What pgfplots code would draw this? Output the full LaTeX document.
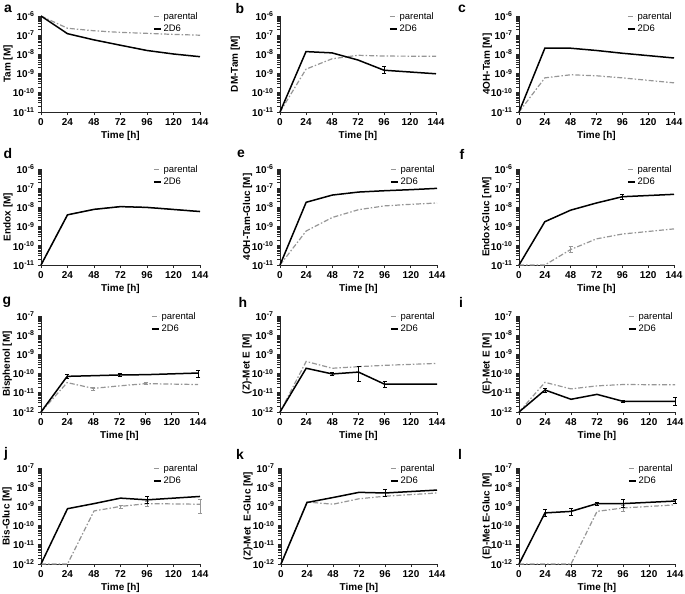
\documentclass[border=0pt]{standalone}
\usepackage{fontspec}
\setmainfont{Liberation Sans}
\usepackage{pgfplots}
\pgfplotsset{compat=1.18}
\definecolor{pargray}{RGB}{150,150,150}
\pgfplotsset{/pgf/number format/assume math mode=true}
\pgfplotsset{legend image code/.code={\draw[#1] (0bp,0bp) -- (7bp,0bp);}}
\pgfplotsset{every axis/.append style={
    scale only axis, height=96bp, xmin=0, xmax=144,
    xtick={0,24,48,72,96,120,144},
    axis lines=left, axis line style={-, line width=0.7bp, black!85},
    tick align=outside, major tick length=3bp, tick style={line width=0.7bp, black!85},
    ticklabel style={font=\bfseries\fontsize{10}{11}\selectfont},
    xlabel={Time [h]},
    xlabel style={at={(axis description cs:0.5,-0.245)}, anchor=center, font=\bfseries\fontsize{10}{11}\selectfont},
    ylabel style={anchor=center, font=\bfseries\fontsize{10}{11}\selectfont},
    legend style={at={(axis description cs:1,1.06)}, anchor=north east, draw=none, fill=none, inner sep=0pt, font=\fontsize{9.5}{10}\selectfont, cells={anchor=west}, row sep=0pt},
    clip=false,
  }}
\pgfplotsset{
  myupper/.style={ymin=1e-11, ymax=1e-6, ytick={1e-11,1e-10,1e-9,1e-8,1e-7,1e-6},
    yticklabels={10\textsuperscript{-11},10\textsuperscript{-10},10\textsuperscript{-9},10\textsuperscript{-8},10\textsuperscript{-7},10\textsuperscript{-6}}},
  mylower/.style={ymin=1e-12, ymax=1e-7, ytick={1e-12,1e-11,1e-10,1e-9,1e-8,1e-7},
    yticklabels={10\textsuperscript{-12},10\textsuperscript{-11},10\textsuperscript{-10},10\textsuperscript{-9},10\textsuperscript{-8},10\textsuperscript{-7}}},
  parerr/.style={error bars/y dir=both, error bars/y explicit, error bars/error bar style={line width=0.7bp, solid, pargray}, error bars/error mark options={pargray, mark size=2bp, line width=0.7bp, solid, rotate=90}},
  dderr/.style={error bars/y dir=both, error bars/y explicit, error bars/error bar style={line width=0.8bp, solid, black}, error bars/error mark options={black, mark size=2bp, line width=0.8bp, solid, rotate=90}},
}
\tikzset{
  parline/.style={pargray, line width=1.2bp, dash pattern=on 5bp off 2bp on 1.5bp off 2bp},
  ddline/.style={black, line width=1.5bp},
  panlab/.style={font=\bfseries\fontsize{14}{14}\selectfont},
}
\begin{document}
\begin{tikzpicture}
\path[use as bounding box] (0,0) rectangle (685bp,-594bp);
\node[panlab] at (8bp,-9bp) {a};
\node[panlab] at (240bp,-9bp) {b};
\node[panlab] at (462bp,-9bp) {c};
\node[panlab] at (8bp,-154bp) {d};
\node[panlab] at (241bp,-154bp) {e};
\node[panlab] at (462bp,-154bp) {f};
\node[panlab] at (7bp,-302bp) {g};
\node[panlab] at (243bp,-302bp) {h};
\node[panlab] at (461bp,-302bp) {i};
\node[panlab] at (6bp,-454bp) {j};
\node[panlab] at (240bp,-454bp) {k};
\node[panlab] at (460bp,-454bp) {l};

% a
\begin{semilogyaxis}[myupper, width=159bp, at={(41bp,-112bp)}, anchor=south west,
  ylabel={Tam [M]}, ylabel style={at={(axis description cs:-0.208,0.5)}}]
\addplot[parline] coordinates {(0,1e-6)(24,2.3e-7)(48,1.7e-7)(72,1.4e-7)(96,1.25e-7)(120,1.1e-7)(144,1.0e-7)};
\addlegendentry{parental}
\addplot[ddline] coordinates {(0,1e-6)(24,1.2e-7)(48,5.7e-8)(72,3e-8)(96,1.6e-8)(120,1.05e-8)(144,7.6e-9)};
\addlegendentry{2D6}
\end{semilogyaxis}

% b
\begin{semilogyaxis}[myupper, width=156bp, at={(280bp,-112bp)}, anchor=south west,
  ylabel={DM-Tam [M]}, ylabel style={at={(axis description cs:-0.287,0.5)}}]
\addplot[parline] coordinates {(0,1e-11)(24,1.7e-9)(48,5.9e-9)(72,9e-9)(96,8.2e-9)(144,8e-9)};
\addlegendentry{parental}
\addplot[ddline, dderr] coordinates {(0,1e-11)(24,1.4e-8)(48,1.2e-8)(72,5.1e-9)(96,1.5e-9) += (0,0.8e-9) -= (0,0.5e-9)(144,9.8e-10)};
\addlegendentry{2D6}
\end{semilogyaxis}

% c
\begin{semilogyaxis}[myupper, width=155bp, at={(519bp,-112bp)}, anchor=south west,
  ylabel={4OH-Tam [M]}, ylabel style={at={(axis description cs:-0.205,0.5)}}]
\addplot[parline] coordinates {(0,1e-11)(24,6e-10)(48,8.7e-10)(72,7.7e-10)(96,6e-10)(144,3.3e-10)};
\addlegendentry{parental}
\addplot[ddline] coordinates {(0,1e-11)(24,2.1e-8)(48,2.1e-8)(72,1.6e-8)(96,1.15e-8)(144,6.5e-9)};
\addlegendentry{2D6}
\end{semilogyaxis}

% d
\begin{semilogyaxis}[myupper, width=159bp, at={(41bp,-265bp)}, anchor=south west,
  ylabel={Endox [M]}, ylabel style={at={(axis description cs:-0.208,0.5)}}]
\addplot[parline] coordinates {(0,1e-11)(24,4.1e-9)(48,7.9e-9)(72,1.1e-8)(96,1.0e-8)(144,6.1e-9)};
\addlegendentry{parental}
\addplot[ddline] coordinates {(0,1e-11)(24,4.1e-9)(48,7.9e-9)(72,1.1e-8)(96,1.0e-8)(144,6.1e-9)};
\addlegendentry{2D6}
\end{semilogyaxis}

% e
\begin{semilogyaxis}[myupper, width=157bp, at={(280bp,-265bp)}, anchor=south west,
  ylabel={4OH-Tam-Gluc [M]}, ylabel style={at={(axis description cs:-0.206,0.5)}}]
\addplot[parline] coordinates {(0,1e-11)(24,5.9e-10)(48,3e-9)(72,7.6e-9)(96,1.2e-8)(120,1.45e-8)(144,1.7e-8)};
\addlegendentry{parental}
\addplot[ddline] coordinates {(0,1e-11)(24,1.85e-8)(48,4.4e-8)(72,6.3e-8)(96,7.4e-8)(120,8.4e-8)(144,9.8e-8)};
\addlegendentry{2D6}
\end{semilogyaxis}

% f
\begin{semilogyaxis}[myupper, width=155bp, at={(519bp,-265bp)}, anchor=south west,
  ylabel={Endox-Gluc [nM]}, ylabel style={at={(axis description cs:-0.208,0.5)}}]
\addplot[parline, parerr] coordinates {(0,1e-11)(24,1e-11)(48,6.4e-11) += (0,2.5e-11) -= (0,1.8e-11)(72,2.3e-10)(96,4.1e-10)(144,7.6e-10)};
\addlegendentry{parental}
\addplot[ddline, dderr] coordinates {(0,1e-11)(24,1.8e-9)(48,7.2e-9)(72,1.7e-8)(96,3.6e-8) += (0,1.0e-8) -= (0,1.0e-8)(144,4.8e-8)};
\addlegendentry{2D6}
\end{semilogyaxis}

% g
\begin{semilogyaxis}[mylower, width=157bp, at={(41bp,-412bp)}, anchor=south west,
  ylabel={Bisphenol [M]}, ylabel style={at={(axis description cs:-0.214,0.5)}}]
\addplot[parline, parerr] coordinates {(0,1e-12)(24,3.4e-11)(48,1.7e-11) += (0,0.3e-11) -= (0,0.3e-11)(72,2.3e-11)(96,3e-11) += (0,0.4e-11) -= (0,0.4e-11)(144,2.7e-11)};
\addlegendentry{parental}
\addplot[ddline, dderr] coordinates {(0,1e-12)(24,7.2e-11) += (0,1.8e-11) -= (0,1.5e-11)(48,7.8e-11)(72,8.5e-11) += (0,2e-11) -= (0,1.7e-11)(96,8.8e-11)(144,1.07e-10) += (0,0.4e-10) -= (0,0.4e-10)};
\addlegendentry{2D6}
\end{semilogyaxis}

% h
\begin{semilogyaxis}[mylower, width=157bp, at={(280bp,-412bp)}, anchor=south west,
  ylabel={(Z)-Met E [M]}, ylabel style={at={(axis description cs:-0.21,0.5)}}]
\addplot[parline] coordinates {(0,1e-12)(24,4.3e-10)(48,1.9e-10)(72,2.3e-10)(96,2.7e-10)(144,3.4e-10)};
\addlegendentry{parental}
\addplot[ddline, dderr] coordinates {(0,1e-12)(24,1.9e-10)(48,9.6e-11) += (0,1.5e-11) -= (0,1.5e-11)(72,1.2e-10) += (0,1.1e-10) -= (0,0.8e-10)(96,2.8e-11) += (0,0.9e-11) -= (0,0.8e-11)(144,2.8e-11)};
\addlegendentry{2D6}
\end{semilogyaxis}

% i
\begin{semilogyaxis}[mylower, width=156bp, at={(519bp,-412bp)}, anchor=south west,
  ylabel={(E)-Met E [M]}, ylabel style={at={(axis description cs:-0.205,0.5)}}]
\addplot[parline] coordinates {(0,1e-12)(24,3.5e-11)(48,1.6e-11)(72,2.3e-11)(96,2.7e-11)(144,2.6e-11)};
\addlegendentry{parental}
\addplot[ddline, dderr] coordinates {(0,1e-12)(24,1.4e-11) += (0,0.3e-11) -= (0,0.3e-11)(48,4.6e-12)(72,8.3e-12)(96,3.6e-12) += (0,0.6e-12) -= (0,0.6e-12)(144,3.6e-12) += (0,2e-12) -= (0,1.3e-12)};
\addlegendentry{2D6}
\end{semilogyaxis}

% j
\begin{semilogyaxis}[mylower, width=159bp, at={(41bp,-564bp)}, anchor=south west,
  ylabel={Bis-Gluc [M]}, ylabel style={at={(axis description cs:-0.214,0.5)}}]
\addplot[parline, parerr] coordinates {(0,1e-12)(24,1e-12)(48,5.8e-10)(72,1e-9) += (0,0.2e-9) -= (0,0.2e-9)(96,1.4e-9) += (0,0.5e-9) -= (0,0.4e-9)(144,1.3e-9) += (0,1e-9) -= (0,0.88e-9)};
\addlegendentry{parental}
\addplot[ddline, dderr] coordinates {(0,1e-12)(24,7.6e-10)(48,1.4e-9)(72,2.7e-9)(96,2.2e-9) += (0,1e-9) -= (0,0.7e-9)(144,3.3e-9)};
\addlegendentry{2D6}
\end{semilogyaxis}

% k
\begin{semilogyaxis}[mylower, width=156bp, at={(281bp,-564bp)}, anchor=south west,
  ylabel={(Z)-Met\ \ E-Gluc [M]}, ylabel style={at={(axis description cs:-0.212,0.5)}}]
\addplot[parline] coordinates {(0,1e-12)(24,1.7e-9)(48,1.3e-9)(72,2.5e-9)(96,3.4e-9)(144,5e-9)};
\addlegendentry{parental}
\addplot[ddline, dderr] coordinates {(0,1e-12)(24,1.6e-9)(48,2.9e-9)(72,5.4e-9)(96,5e-9) += (0,2.4e-9) -= (0,1.8e-9)(144,7.1e-9)};
\addlegendentry{2D6}
\end{semilogyaxis}

% l
\begin{semilogyaxis}[mylower, width=156bp, at={(519bp,-564bp)}, anchor=south west,
  ylabel={(E)-Met E-Gluc [M]}, ylabel style={at={(axis description cs:-0.205,0.5)}}]
\addplot[parline, parerr] coordinates {(0,1e-12)(48,1e-12)(72,5.5e-10)(96,8.3e-10) += (0,3e-10) -= (0,2.5e-10)(144,1.2e-9)};
\addlegendentry{parental}
\addplot[ddline, dderr] coordinates {(0,1e-12)(24,4.6e-10) += (0,2.7e-10) -= (0,1.5e-10)(48,5.5e-10) += (0,2.7e-10) -= (0,1.9e-10)(72,1.4e-9) += (0,0.3e-9) -= (0,0.3e-9)(96,1.4e-9) += (0,0.8e-9) -= (0,0.5e-9)(144,1.9e-9) += (0,0.5e-9) -= (0,0.4e-9)};
\addlegendentry{2D6}
\end{semilogyaxis}
\end{tikzpicture}
\end{document}
